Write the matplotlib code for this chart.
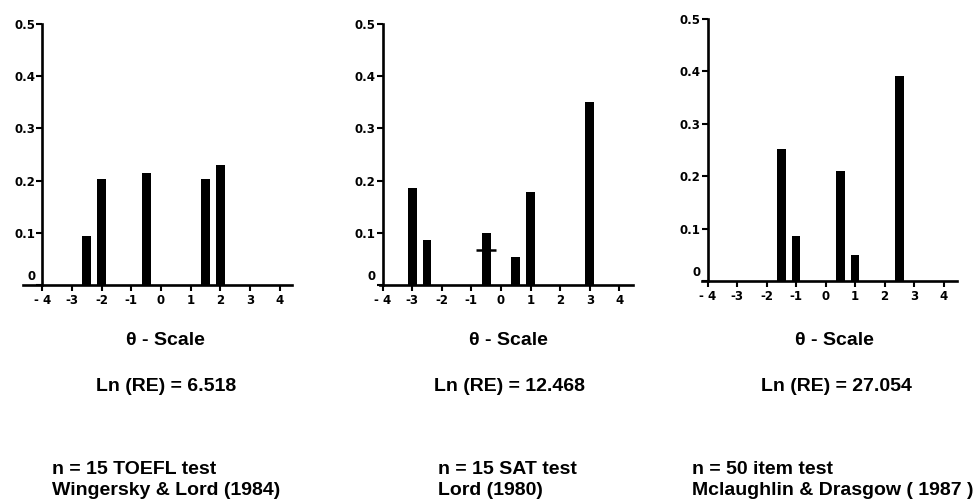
import matplotlib
matplotlib.use("Agg")
import matplotlib.pyplot as plt
from matplotlib.transforms import ScaledTranslation

# ---------------- data ----------------
theta_ticks = [-4, -3, -2, -1, 0, 1, 2, 3, 4]
theta_tick_labels = ["- 4", "-3", "-2", "-1", "0", "1", "2", "3", "4"]
prob_ticks = [0, 0.1, 0.2, 0.3, 0.4, 0.5]
prob_tick_labels = ["0", "0.1", "0.2", "0.3", "0.4", "0.5"]

toefl_theta = [-2.5, -2.0, -0.5, 1.5, 2.0]
toefl_prob = [0.094, 0.203, 0.215, 0.204, 0.229]

sat_theta = [-3.0, -2.5, -0.5, 0.5, 1.0, 3.0]
sat_prob = [0.186, 0.086, 0.100, 0.054, 0.178, 0.351]
sat_mark_theta = [-0.5]
sat_mark_prob = [0.067]

item50_theta = [-1.5, -1.0, 0.5, 1.0, 2.5]
item50_prob = [0.252, 0.086, 0.210, 0.050, 0.391]

axis_title = "\u03b8 - Scale"
ln_re_labels = ["Ln (RE) = 6.518", "Ln (RE) = 12.468", "Ln (RE) = 27.054"]
test_labels = ["n = 15 TOEFL test", "n = 15 SAT test", "n = 50 item test"]
source_labels = ["Wingersky & Lord (1984)", "Lord (1980)", "Mclaughlin & Drasgow ( 1987 )"]

# ---------------- layout ----------------
W, H = 980, 500
fig = plt.figure(figsize=(W / 100, H / 100), dpi=100)

def px(x0, y_top, x1, y_bot):
    return [x0 / W, 1 - y_bot / H, (x1 - x0) / W, (y_bot - y_top) / H]

panels = [
    dict(rect=px(23.2, 24, 292.0, 285), xlim=(-4.64, 4.41), x=toefl_theta, y=toefl_prob),
    dict(rect=px(379.6, 24, 632.7, 285), xlim=(-4.10, 4.45), x=sat_theta, y=sat_prob),
    dict(rect=px(701.6, 19, 956.8, 281), xlim=(-4.20, 4.45), x=item50_theta, y=item50_prob),
]

tick_font = dict(family="DejaVu Sans", weight="bold", size=8.5)

axes = []
for p in panels:
    ax = fig.add_axes(p["rect"])
    ax.bar(p["x"], p["y"], width=0.3, color="black", align="center", zorder=3)
    ax.set_xlim(*p["xlim"])
    ax.set_ylim(0, 0.5)
    for s in ("top", "right"):
        ax.spines[s].set_visible(False)
    ax.spines["left"].set_position(("data", -4))
    for s in ("left", "bottom"):
        ax.spines[s].set_linewidth(1.9)
        ax.spines[s].set_color("black")
    ax.set_xticks(theta_ticks)
    ax.set_xticklabels(theta_tick_labels, fontdict=tick_font)
    ax.set_yticks(prob_ticks)
    ax.set_yticklabels(prob_tick_labels, fontdict=tick_font)
    ax.tick_params(axis="x", direction="out", length=4, width=1.5, pad=2.5)
    ax.tick_params(axis="y", direction="out", length=4, width=1.5, pad=1.0)
    lbl0 = ax.get_yticklabels()[0]
    lbl0.set_transform(lbl0.get_transform() + ScaledTranslation(0, 10 / 100, fig.dpi_scale_trans))
    ax.patch.set_visible(False)
    axes.append(ax)

# small horizontal mark crossing the -0.5 bar in the SAT panel
axes[1].plot(sat_mark_theta, sat_mark_prob, marker="_", markersize=14,
             markeredgewidth=1.8, color="black", linestyle="none", zorder=4)

# ---------------- texts ----------------
txt_font = dict(family="Liberation Sans", weight="bold", size=14)

def ftext(x, y, s, ha="center", va="baseline"):
    fig.text(x / W, 1 - y / H, s, ha=ha, va=va, **txt_font)

title_x = [165, 508, 834]
ln_x = [166, 509, 836]
left_x = [52, 438, 692]
for i in range(3):
    ftext(title_x[i], 345, axis_title)
    ftext(ln_x[i], 391, ln_re_labels[i])
    ftext(left_x[i], 474, test_labels[i], ha="left")
    ftext(left_x[i], 495, source_labels[i], ha="left")

fig.savefig("out.png", dpi=100)
